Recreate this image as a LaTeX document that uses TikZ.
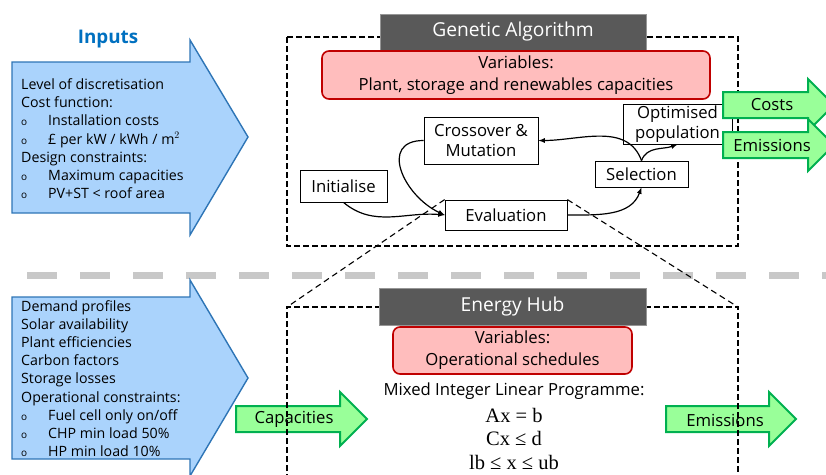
\documentclass[tikz,border=0pt]{standalone}
\usepackage{fontspec}
\setmainfont{Open Sans}
\newfontfamily\eqfont{Liberation Serif}
\usetikzlibrary{positioning}

\definecolor{inblue}{RGB}{170,211,252}
\definecolor{inedge}{RGB}{46,117,182}
\definecolor{titleblue}{RGB}{0,112,192}
\definecolor{outgreen}{RGB}{153,255,153}
\definecolor{outedge}{RGB}{0,176,80}
\definecolor{varfill}{RGB}{255,189,189}
\definecolor{varedge}{RGB}{192,0,0}
\definecolor{hdrfill}{RGB}{89,89,89}
\definecolor{hdredge}{RGB}{150,150,150}
\definecolor{sepgray}{RGB}{200,200,200}

\newcommand{\bu}{\makebox[27pt][l]{\fontsize{10}{10}\selectfont o}}

\tikzset{
  listtxt/.style = {font=\fontsize{14.2}{18.2}\selectfont, inner sep=0pt},
  txt/.style = {font=\fontsize{16.7}{21}\selectfont, inner sep=0pt},
  eqtxt/.style = {font=\eqfont\fontsize{20.5}{20.5}\selectfont, inner sep=0pt},
  stage/.style = {draw, line width=0.8, fill=white, inner sep=0pt, align=center,
                  font=\fontsize{16.7}{20.5}\selectfont},
  header/.style = {fill=hdrfill, draw=hdredge, line width=1, text=white,
                   font=\fontsize{19.2}{19.2}\selectfont, inner sep=0pt},
  varbox/.style = {fill=varfill, draw=varedge, line width=1.6, rounded corners=7,
                   align=center, inner sep=0pt, font=\fontsize{16.7}{22}\selectfont},
  blockin/.style = {fill=inblue, draw=inedge, line width=1.4},
  blockout/.style = {fill=outgreen, draw=outedge, line width=2},
  frame/.style = {dash pattern=on 6pt off 3pt, line width=1.7},
  zoomline/.style = {dash pattern=on 6pt off 4pt, line width=1.1},
  flow/.style = {-latex, line width=1.2}
}

\begin{document}
\begin{tikzpicture}[x=1pt, y=-1pt]
	\useasboundingbox (0,0) rectangle (826,474);
	
	% Separator
	\draw[sepgray, line width=7, dash pattern=on 30pt off 23pt] (27,275) -- (826,275);
	
	% Input arrows
	\filldraw[blockin] (12,62) -- (190,62) -- (190,40) -- (248,137) -- (190,235) -- (190,213) -- (12,213) -- cycle;
	\filldraw[blockin] (12,297) -- (190,297) -- (190,280) -- (248,378) -- (190,476) -- (190,459) -- (12,459) -- cycle;
	
	\node[font=\fontsize{18.8}{18.8}\selectfont\bfseries, text=titleblue] (inputs) at (108,39) {Inputs};
	
	\node[listtxt, anchor=north west, align=left] (galist) at (21,78.5) {%
		Level of discretisation\\
		Cost function:\\
		\bu Installation costs\\
		\bu \pounds{} per kW / kWh / m$^2$\\
		Design constraints:\\
		\bu Maximum capacities\\
		\bu PV+ST < roof area};
	
	\node[listtxt, anchor=north west, align=left] (hublist) at (21,300) {%
		Demand profiles\\
		Solar availability\\
		Plant efficiencies\\
		Carbon factors\\
		Storage losses\\
		Operational constraints:\\
		\bu Fuel cell only on/off\\
		\bu CHP min load 50\%\\
		\bu HP min load 10\%};
	
	% Genetic algorithm
	\draw[frame] (287,37) rectangle (738,246);
	\node[header, minimum width=266, minimum height=36] (gahdr) at (513,32) {Genetic Algorithm};
	\node[varbox, minimum width=388, minimum height=48] (gavar) at (516,75)
		{Variables:\\Plant, storage and renewables capacities};
	
	\node[stage, minimum width=87, minimum height=32] (init) at (343.5,186) {Initialise};
	\node[stage, minimum width=114, minimum height=47] (cross) at (481,140.5) {Crossover \&\\Mutation};
	\node[stage, minimum width=122, minimum height=30] (eval) at (506,215) {Evaluation};
	\node[stage, minimum width=93, minimum height=26] (sel) at (641.5,174) {Selection};
	\node[stage, minimum width=109, minimum height=40] (opt) at (677.5,124) {Optimised\\population};
	
	\draw[flow] (init.south) to[out=-40, in=175] (eval.west);
	\draw[flow] (cross.west) to[out=180, in=155, looseness=1.5] (eval.west);
	\draw[flow] (eval.east) to[out=0, in=-110] (sel.south);
	\draw[flow] (sel.north) to[out=110, in=0] (cross.east);
	\draw[flow] (sel.north) to[out=70, in=-160] (opt.south);
	
	% GA outputs
	\filldraw[blockout] (723,92) -- (808,92) -- (808,79) -- (834,105) -- (808,131) -- (808,118) -- (723,118) -- cycle;
	\node[txt] (costs) at (772,105) {Costs};
	\filldraw[blockout] (723,132) -- (808,132) -- (808,119) -- (834,145) -- (808,171) -- (808,158) -- (723,158) -- cycle;
	\node[txt] (gaemis) at (772,145) {Emissions};
	
	% Energy hub
	\filldraw[blockout] (236,406) -- (340,406) -- (340,392) -- (367,419) -- (340,446) -- (340,432) -- (236,432) -- cycle;
	\node[txt] (capin) at (294,419.5) {Capacities};
	\filldraw[blockout] (666,406) -- (769,406) -- (769,392) -- (796,419) -- (769,446) -- (769,432) -- (666,432) -- cycle;
	\node[txt] (hubemis) at (725,420) {Emissions};
	
	\coordinate (hubnw) at (287,307);
	\coordinate (hubne) at (738,307);
	\draw[frame] (287,480) -- (hubnw) -- (hubne) -- (738,480);
	\node[header, minimum width=267, minimum height=37] (hubhdr) at (512.5,306.5) {Energy Hub};
	\node[varbox, minimum width=239, minimum height=47] (hubvar) at (512.5,350.5)
		{Variables:\\Operational schedules};
	
	\node[txt] (milp) at (514,391) {Mixed Integer Linear Programme:};
	\node[eqtxt] (eqa) at (514,415) {Ax = b};
	\node[eqtxt] (eqb) at (514,438) {Cx ≤ d};
	\node[eqtxt] (eqc) at (514,462) {lb ≤ x ≤ ub};
	
	% Zoom lines
	\draw[zoomline] (eval.north west) -- (hubnw);
	\draw[zoomline] (eval.north east) -- (hubne);
	
\end{tikzpicture}
\end{document}
